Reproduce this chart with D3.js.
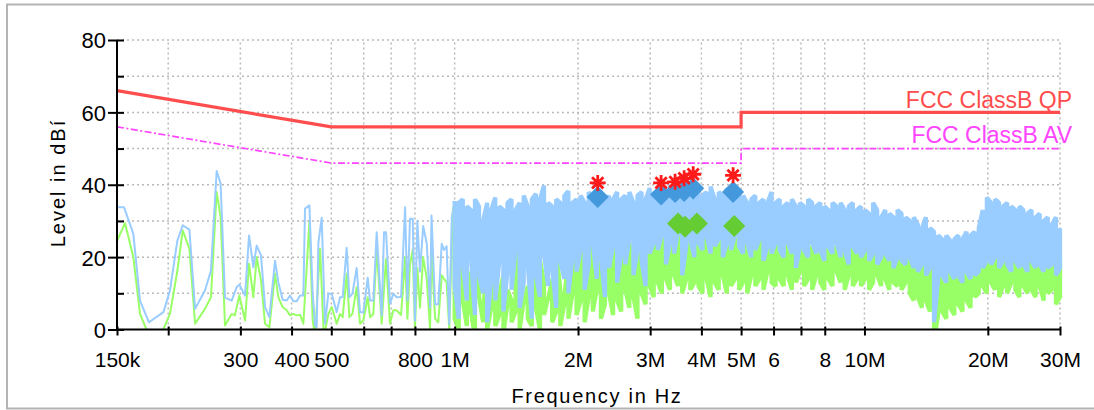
<!DOCTYPE html>
<html><head><meta charset="utf-8">
<script src="https://cdn.jsdelivr.net/npm/d3@7"></script>
<style>
html,body{margin:0;padding:0;background:#fff;}
svg{display:block;font-family:"Liberation Sans",Arial,Helvetica,sans-serif;}
</style></head><body>
<svg id="chart" width="1094" height="410"></svg>
<script>
// ---------- DATA ----------
const xTickValues = [150e3,200e3,300e3,400e3,500e3,600e3,700e3,800e3,1e6,2e6,3e6,4e6,5e6,6e6,7e6,8e6,10e6,20e6,30e6];
const xTickLabels = ["150k","","300","400","500","","","800","1M","2M","3M","4M","5M","6","","8","10M","20M","30M"];
const yTickValues = [0,10,20,30,40,50,60,70,80];
const yTickLabels = ["0","","20","","40","","60","","80"];

// limit lines (MHz, dB)
const qpLimitMHz = [0.15, 0.5, 5, 5, 30];
const qpLimitDb  = [66, 56, 56, 60, 60];
const avLimitMHz = [0.15, 0.5, 5, 5, 30];
const avLimitDb  = [56, 46, 46, 50, 50];
const legendLabels = ["FCC ClassB QP", "FCC ClassB AV"];

// low band trace samples (kHz, dB)
const blueLowKHz = [150.2,156,164.4,170.7,179.5,194.7,202,210.6,217,225.3,232.6,245.9,254.3,262.6,268.5,275.2,285.7,293.8,298.2,308,315,322.7,328.8,336.9,344.6,353.1,364.5,371.4,380.6,389.2,396.6,404.1,411.7,419.5,427.4,431.4,442.1,450.4,456.4,460.6,465,473.8,482.7,491.9,501.2,515.4,525.2,533.1,545.2,553.5,562.9,576.7,587.6,598.7,613.5,621.6,633.3,645.3,663.7,672.4,680,695.5,708.6,722,740,757,767,778,790,800,811,823,838,855,871,878,896,912,930,942,956,970,984];
const blueLowDb  = [33.8,33.8,26.5,8,2,4.8,10.8,24.6,28.8,27.6,5.7,10.8,16.3,43.8,40.3,8.8,8,11.7,12.4,9.4,26,17.2,23.2,20.5,6.2,3.4,19,13,8.2,8,9.4,7.8,7.8,9.4,9.4,33.4,34.3,9.9,1.1,0.6,23.9,30.9,1.6,9.9,9.9,4.8,8.9,8.9,22.6,8.9,9.9,17,4.8,4.8,14.3,8,8,26.9,3.9,26.9,26.9,7.1,9.9,8.9,9,33.8,8,30.6,30.6,2.5,30,16,28.6,23.7,6,31.5,7,7,23.7,22,23,1.5,31];
const greenLowKHz = [150.2,156.9,164.4,170.7,177,185,194.5,202,210.6,217,225.3,232.6,245.9,254.3,262.6,268.5,275.2,285.7,291,298.2,308,315,322.7,328.8,336.9,344.6,353.1,364.5,371.4,380.6,389.2,396.6,404.1,411.7,419.5,427.4,442.1,450.4,456.4,469.5,479.6,491.9,501.2,515.4,525.2,533.1,545.2,553.5,562.9,576.7,587.6,598.7,613.5,621.6,633.3,645.3,663.7,680,695.5,708.6,722,740,757,767,778,790,800,811,823,838,855,871,878,896,912,930,942,956,970,984];
const greenLowDb  = [24.6,29.4,20,4.3,0,-5,0,4.3,16.3,27.4,22.3,1.6,5.7,8.9,38,31,1.1,4.3,3.9,9.4,2.5,18.2,8.9,20,13.5,1.6,0.6,15.4,8.9,6.2,5.3,3.9,4.3,3.9,4.1,1.6,29.7,2.5,-2,22.3,-2,4.3,6.2,1.6,4.3,3.4,15.4,3.4,4.3,11.7,1.6,2.5,8.9,3.4,4.3,22.3,1.6,19.5,1.6,5.3,5.3,4,20,3,18,22,0,17,6,20,14,0,22,3,2,15,14,13,0,24];

// dense sweep 1 MHz .. 30 MHz: per display column (log-spaced), highest and lowest reading
const denseStartHz = 1e6, denseStopHz = 30e6;
const blueMaxDb = [
35.5,35,36,34,33,36,34,30,35,33, 36.5,34,33,35,36,33,35,37,34,36,
37.5,36,39.8,35,34,36,35,37,38.2,35, 36,37,35,38,36,37,38,35,37,36,
38,36,37,38,35,37,38,36,39,38, 37,39,38,40,37,39,38,39.5,37,38,
39,37,38,39.5,36,38,37,39,38,36, 38,37,35,36,37,35,36,35,38,35,
36,34,35,36,34,35,34,36,35,34, 35,34,33,35,34,35,33,34,35,33,
34,33,32,35,33,31,33,32,31,33, 32,31,30,31,29,28,31,28,27,26,
25,26,24.5,25,26,25,27,26,27,28, 33,36.5,35,36,35,34,35,34,33,34,
33,32,33,31,32,30,31,29,31,28];
const blueMinDb = [
12,3,18,8,20,4,15,10,2,14, 8,19,5,16,11,22,6,13,18,3,
15,9,21,12,17,6,19,14,10,20, 16,22,11,18,24,14,20,9,17,23,
13,21,18,25,15,22,19,12,21,24, 22,26,18,24,21,27,15,23,25,20,
24,22,26,21,23,25,20,24,22,26, 23,21,24,20,22,25,19,23,21,24,
22,20,24,21,17,23,22,20,24,21, 22,19,23,21,24,20,22,18,23,21,
20,22,19,21,18,20,21,19,17,20, 19,18,20,17,16,18,15,17,2,14,
15,13,16,14,15,13,16,14,15,16, 17,19,18,20,17,19,18,16,19,17,
18,16,19,17,18,16,17,18,15,17];
const greenMaxDb = [
34,14,27,6,16,12,22,5,18,9, 20,10,15,11,8,17,24,7,12,20,
10,19,13,8,14,22,11,9,20,12, 22,18,25,20,23,17,24,21,19,25,
20,23,18,24,21,25,19,22,26,24, 27,23,28,25,29,24,27,26,28,25,
26,24,27,23,25,26,24,27,23,25, 24,26,23,25,22,24,26,23,25,22,
24,23,25,22,24,21,25,23,22,24, 23,22,24,21,23,25,22,23,21,24,
22,23,21,24,22,20,23,21,22,20, 21,22,19,20,18,19,17,18,5,16,
15,17,14,16,15,18,14,16,17,19, 20,22,23,24,21,23,22,20,23,21,
22,20,21,23,20,19,21,20,18,20];
const greenMinDb = [
3,0,8,1,5,-2,9,2,0,6, 1,4,-1,7,2,5,0,8,3,1,
6,0,4,9,2,5,1,7,3,10, 4,8,2,9,5,11,3,7,10,4,
8,5,11,6,9,3,10,7,12,9, 13,10,14,11,15,12,10,14,11,13,
12,10,14,9,13,11,15,10,12,14, 11,13,10,15,12,14,11,16,13,12,
14,12,15,11,13,16,12,14,11,15, 13,11,14,12,16,13,11,15,12,14,
12,14,11,13,15,12,14,11,13,12, 11,13,10,8,9,6,8,5,-3,4,
5,3,6,4,7,5,8,6,9,10, 12,10,13,11,9,12,10,13,11,9,
12,10,11,9,12,8,10,11,7,9];

// final measurement markers
const qpMarkMHz   = [2.234, 3.19, 3.45, 3.63, 3.82, 4.78];
const qpPeakDb    = [40.5, 40.5, 40.8, 41.8, 42.9, 42.6];
const qpMeasDb    = [36.6, 37.3, 38.0, 38.3, 39.0, 38.0];
const avMarkMHz   = [3.51, 3.65, 3.90, 4.81];
const avMeasDb    = [29.3, 28.4, 29.3, 28.6];

const axisTitles = {x: "Frequency in Hz", y: "Level in dBí"};

// ---------- CHART ----------
const svg = d3.select("#chart");
const x = d3.scaleLog().domain([150e3, 30e6]).range([117, 1060]);
const y = d3.scaleLinear().domain([0, 80]).range([329.5, 40]);

// frame
svg.append("rect").attr("x", 7).attr("y", 4.5).attr("width", 1200).attr("height", 404)
  .attr("fill", "none").attr("stroke", "#b4b4b4").attr("stroke-width", 2);

const defs = svg.append("defs");
defs.append("clipPath").attr("id", "plotclip").append("rect")
  .attr("x", 117).attr("y", 30).attr("width", 946).attr("height", 299.5);

// grid
const grid = svg.append("g").attr("stroke", "#b9b9b9").attr("stroke-width", 1.5).attr("stroke-dasharray", "2,3");
xTickValues.filter(v => v > 150e3).forEach(v => {
  grid.append("line").attr("x1", x(v)).attr("x2", x(v)).attr("y1", y(0)).attr("y2", y(80));
});
yTickValues.filter(v => v > 0).forEach(v => {
  grid.append("line").attr("x1", x(150e3)).attr("x2", x(30e6)).attr("y1", y(v)).attr("y2", y(v));
});

// limit lines
const lim = d3.line().x(d => x(d[0] * 1e6)).y(d => y(d[1]));
svg.append("path").datum(qpLimitMHz.map((f, i) => [f, qpLimitDb[i]]))
  .attr("d", lim).attr("fill", "none").attr("stroke", "#ff4d4d").attr("stroke-width", 3.2);
svg.append("path").datum(avLimitMHz.map((f, i) => [f, avLimitDb[i]]))
  .attr("d", lim).attr("fill", "none").attr("stroke", "#ff44ff").attr("stroke-width", 1.7)
  .attr("stroke-dasharray", "7,2.5,2,2.5");

// traces
const nCol = blueMaxDb.length;
const colF = i => denseStartHz * Math.pow(denseStopHz / denseStartHz, i / (nCol - 1));
function lowPts(lowK, lowDb, firstDense) {
  const pts = lowK.map((k, i) => ({f: k * 1e3, v: lowDb[i]}));
  pts.push({f: denseStartHz, v: firstDense});
  return pts;
}
function densePts(maxA, minA) {
  const pts = [];
  maxA.forEach((mx, i) => {
    const f = colF(i), mn = minA[i];
    if (i % 2 === 0) pts.push({f, v: mx}, {f, v: mn});
    else pts.push({f, v: mn}, {f, v: mx});
  });
  return pts;
}
const tr = d3.line().x(d => x(d.f)).y(d => y(d.v));
const colW = (x(denseStopHz) - x(denseStartHz)) / (nCol - 1) + 0.2;
const traceG = svg.append("g").attr("clip-path", "url(#plotclip)");
const traces = [
  {low: lowPts(greenLowKHz, greenLowDb, greenMaxDb[0]), dense: densePts(greenMaxDb, greenMinDb), color: "#99ff66"},
  {low: lowPts(blueLowKHz, blueLowDb, blueMaxDb[0]), dense: densePts(blueMaxDb, blueMinDb), color: "#99ccff"}
];
traces.forEach(t => {
  traceG.append("path").datum(t.low).attr("d", tr).attr("fill", "none")
    .attr("stroke", t.color).attr("stroke-width", 2).attr("stroke-linejoin", "round");
});
traces.forEach(t => {
  traceG.append("path").datum(t.dense).attr("d", tr).attr("fill", "none")
    .attr("stroke", t.color).attr("stroke-width", colW).attr("stroke-linejoin", "bevel");
});

// legend texts
svg.append("text").attr("x", 1072).attr("y", 108).attr("text-anchor", "end")
  .attr("font-size", 23).attr("fill", "#ff4d4d").text(legendLabels[0]);
svg.append("text").attr("x", 1072).attr("y", 143).attr("text-anchor", "end")
  .attr("font-size", 23).attr("fill", "#ff44ff").text(legendLabels[1]);

// markers
const diamond = d3.symbol().type(d3.symbolSquare).size(245);
svg.append("g").selectAll("path").data(qpMarkMHz).join("path")
  .attr("d", diamond).attr("fill", "#4499dd")
  .attr("transform", (f, i) => `translate(${x(f * 1e6)},${y(qpMeasDb[i])}) rotate(45)`);
svg.append("g").selectAll("path").data(avMarkMHz).join("path")
  .attr("d", diamond).attr("fill", "#66cc33")
  .attr("transform", (f, i) => `translate(${x(f * 1e6)},${y(avMeasDb[i])}) rotate(45)`);
const asterisk = {draw(ctx, size) {
  const r = Math.sqrt(size) / 2;
  for (let k = 0; k < 4; k++) {
    const a = k * Math.PI / 4;
    ctx.moveTo(-r * Math.cos(a), -r * Math.sin(a));
    ctx.lineTo(r * Math.cos(a), r * Math.sin(a));
  }
}};
svg.append("g").selectAll("path").data(qpMarkMHz).join("path")
  .attr("d", d3.symbol().type(asterisk).size(256)).attr("fill", "none")
  .attr("stroke", "#ff1a1a").attr("stroke-width", 2.8)
  .attr("transform", (f, i) => `translate(${x(f * 1e6)},${y(qpPeakDb[i])})`);

// axes
const xAxis = d3.axisBottom(x).tickValues(xTickValues)
  .tickFormat((d, i) => xTickLabels[i]).tickSizeOuter(0);
const gx = svg.append("g").attr("transform", `translate(0,${y(0)})`).call(xAxis);
gx.select(".domain").remove();
gx.selectAll(".tick line").attr("y1", -3).attr("y2", 6).attr("stroke", "#000").attr("stroke-width", 2);
gx.selectAll(".tick text").attr("y", 37).attr("dy", 0).attr("font-size", 21)
  .attr("font-family", "Liberation Sans, Arial, sans-serif").attr("fill", "#000");
svg.append("line").attr("x1", x(150e3)).attr("x2", x(30e6)).attr("y1", y(0)).attr("y2", y(0))
  .attr("stroke", "#000").attr("stroke-width", 2);

const yAxis = d3.axisLeft(y).tickValues(yTickValues)
  .tickFormat((d, i) => yTickLabels[i]).tickSizeOuter(0);
const gy = svg.append("g").attr("transform", `translate(${x(150e3)},0)`).call(yAxis);
gy.select(".domain").remove();
gy.selectAll(".tick line").attr("x1", (d, i) => yTickLabels[i] ? -9 : 0).attr("x2", 7)
  .attr("stroke", "#000").attr("stroke-width", 2);
gy.selectAll(".tick text").attr("x", -11).attr("dy", "0.36em").attr("font-size", 22)
  .attr("font-family", "Liberation Sans, Arial, sans-serif").attr("fill", "#000");
svg.append("line").attr("x1", x(150e3)).attr("x2", x(150e3)).attr("y1", y(80)).attr("y2", y(0) + 1)
  .attr("stroke", "#000").attr("stroke-width", 2);

// axis titles
svg.append("text").attr("x", 597).attr("y", 403).attr("text-anchor", "middle")
  .attr("font-size", 20).attr("letter-spacing", 1.7).attr("fill", "#000").text(axisTitles.x);
svg.append("text").attr("transform", "translate(65,183) rotate(-90)").attr("text-anchor", "middle")
  .attr("font-size", 20).attr("letter-spacing", 2).attr("fill", "#000").text(axisTitles.y);
</script>
</body></html>
